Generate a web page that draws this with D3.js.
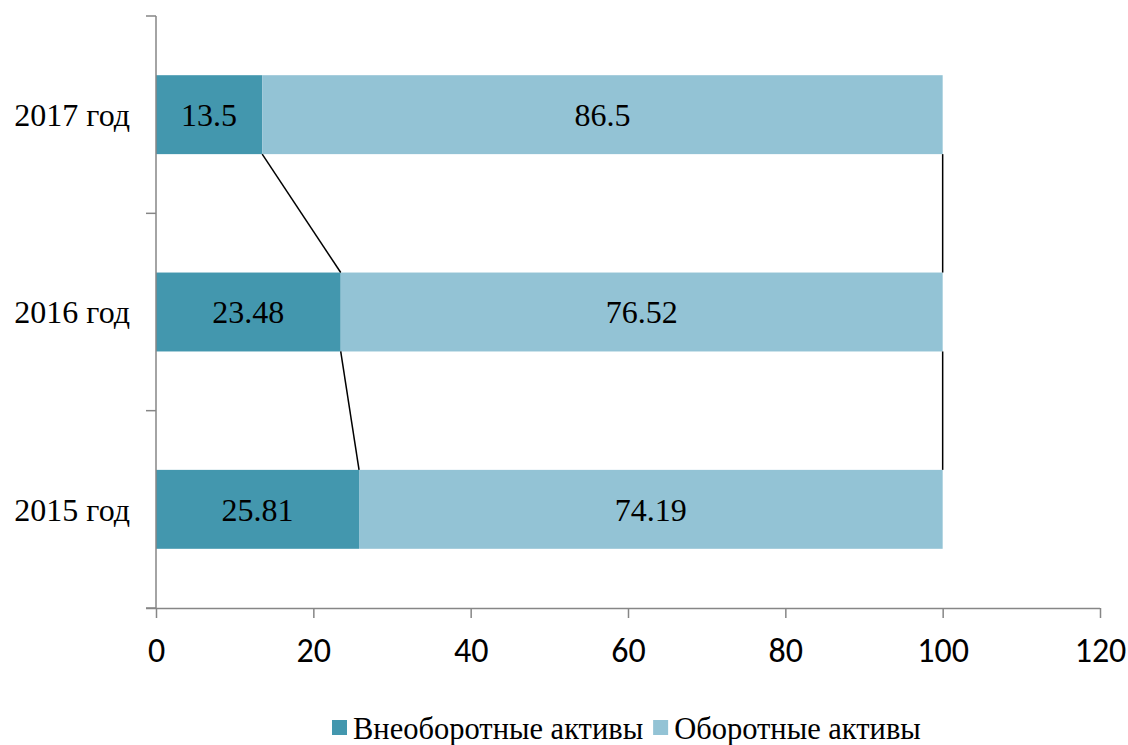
<!DOCTYPE html>
<html>
<head>
<meta charset="utf-8">
<script src="https://cdn.jsdelivr.net/npm/d3@7"></script>
<style>
  body { margin: 0; background: #fff; }
  svg { display: block; }
</style>
</head>
<body>
<svg id="chart" width="1128" height="745"></svg>
<script>
// Asset structure by year, percent of total
const years = ["2015 год", "2016 год", "2017 год"];
const nonCurrent = [25.81, 23.48, 13.5];
const current = [74.19, 76.52, 86.5];
const seriesNames = ["Внеоборотные активы", "Оборотные активы"];
const xTicks = [0, 20, 40, 60, 80, 100, 120];

const colors = ["#4397AE", "#93C3D5"];
const axisColor = "#868686";
const serif = "'Liberation Serif', 'Times New Roman', serif";
const sans = "Carlito, 'Open Sans', Lato, sans-serif";

const svg = d3.select("#chart");
const margin = { left: 156, right: 28, top: 16, bottom: 137 };
const W = 1128, H = 745;

const x = d3.scaleLinear().domain([0, 120]).range([margin.left, W - margin.right]);
// categories bottom-to-top: 2015 at the bottom
const y = d3.scaleBand().domain(years.slice().reverse()).range([margin.top, H - margin.bottom])
  .paddingInner(0.6).paddingOuter(0.3);
const yOuter = d3.scaleBand().domain(years.slice().reverse()).range([margin.top, H - margin.bottom]);

const stacked = years.map((yr, i) => ({
  year: yr,
  segs: [
    { s: 0, x0: 0, x1: nonCurrent[i], v: nonCurrent[i] },
    { s: 1, x0: nonCurrent[i], x1: nonCurrent[i] + current[i], v: current[i] }
  ]
}));

// bars
const g = svg.append("g");
stacked.forEach(row => {
  row.segs.forEach(seg => {
    g.append("rect")
      .attr("x", x(seg.x0))
      .attr("y", y(row.year))
      .attr("width", x(seg.x1) - x(seg.x0))
      .attr("height", y.bandwidth())
      .attr("fill", colors[seg.s]);
  });
});

// series lines joining the segment ends of adjacent bars
for (let i = 0; i < stacked.length - 1; i++) {
  const lower = stacked[i], upper = stacked[i + 1];
  [0, 1].forEach(s => {
    svg.append("line")
      .attr("x1", x(lower.segs[s].x1)).attr("y1", y(lower.year))
      .attr("x2", x(upper.segs[s].x1)).attr("y2", y(upper.year) + y.bandwidth())
      .attr("stroke", "#000").attr("stroke-width", 1.5);
  });
}

// data labels
stacked.forEach(row => {
  row.segs.forEach(seg => {
    svg.append("text")
      .attr("x", (x(seg.x0) + x(seg.x1)) / 2)
      .attr("y", y(row.year) + y.bandwidth() / 2)
      .attr("dy", "0.35em")
      .attr("text-anchor", "middle")
      .attr("font-family", serif)
      .attr("font-size", 32)
      .attr("fill", "#000")
      .text(seg.v);
  });
});

// x axis
const xAxis = svg.append("g")
  .attr("transform", `translate(0,${H - margin.bottom})`)
  .call(d3.axisBottom(x).tickValues(xTicks).tickSize(10).tickPadding(20).tickSizeOuter(0));
xAxis.select(".domain").attr("stroke", axisColor).attr("stroke-width", 1.5)
  .attr("d", `M${margin.left - 10},0.5H${W - margin.right}`);
xAxis.selectAll(".tick line").attr("stroke", axisColor).attr("stroke-width", 1.5);
xAxis.selectAll(".tick text").attr("font-family", sans).attr("font-size", 34).attr("fill", "#000");

// y axis: line with boundary ticks between categories
const yAxis = svg.append("g");
yAxis.append("line")
  .attr("x1", margin.left).attr("x2", margin.left)
  .attr("y1", margin.top).attr("y2", H - margin.bottom)
  .attr("stroke", axisColor).attr("stroke-width", 1.5);
const bounds = yOuter.domain().map(d => yOuter(d)).concat([H - margin.bottom]);
bounds.forEach(b => {
  yAxis.append("line")
    .attr("x1", margin.left - 10).attr("x2", margin.left)
    .attr("y1", b).attr("y2", b)
    .attr("stroke", axisColor).attr("stroke-width", 1.5);
});
years.forEach(yr => {
  yAxis.append("text")
    .attr("x", margin.left - 26)
    .attr("y", y(yr) + y.bandwidth() / 2)
    .attr("dy", "0.35em")
    .attr("text-anchor", "end")
    .attr("font-family", serif)
    .attr("font-size", 32)
    .attr("fill", "#000")
    .text(yr);
});

// legend
const legend = svg.append("g").attr("transform", "translate(332,739)");
let lx = 0;
seriesNames.forEach((name, i) => {
  legend.append("rect").attr("x", lx).attr("y", -19).attr("width", 15).attr("height", 15).attr("fill", colors[i]);
  const t = legend.append("text")
    .attr("x", lx + 21).attr("y", 0)
    .attr("font-family", serif).attr("font-size", 30.5).attr("fill", "#000")
    .text(name);
  lx += 21 + t.node().getComputedTextLength() + 10;
});
</script>
</body>
</html>
